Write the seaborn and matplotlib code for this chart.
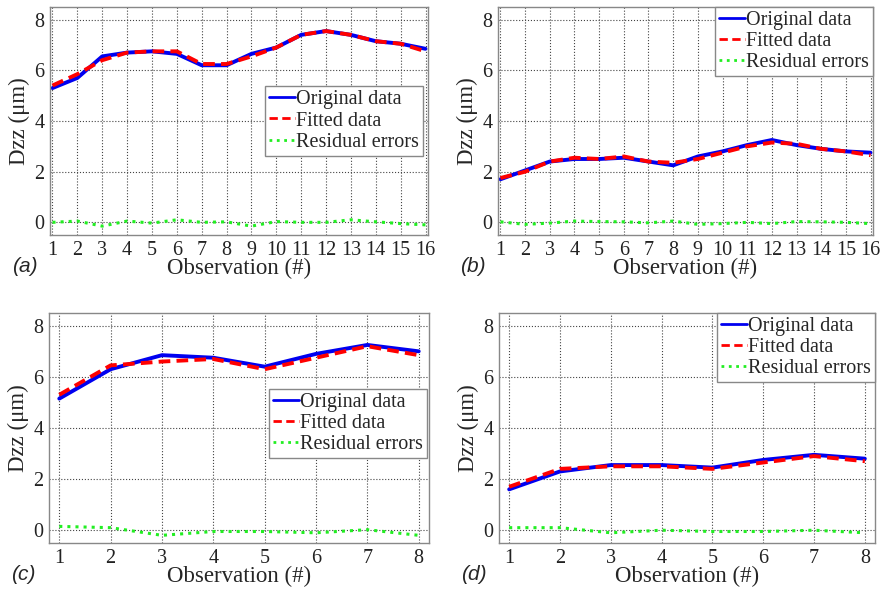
import numpy as np
import pandas as pd
import matplotlib
matplotlib.use("Agg")
import matplotlib.pyplot as plt
import seaborn as sns

# Observation indices
obs_16 = list(range(1, 17))
obs_8 = list(range(1, 9))

# Panel (a)
orig_a = [5.3, 5.7, 6.55, 6.7, 6.75, 6.65, 6.2, 6.2, 6.65, 6.9, 7.4, 7.55, 7.4, 7.15, 7.05, 6.85]
fit_a = [5.4, 5.85, 6.4, 6.7, 6.75, 6.75, 6.25, 6.25, 6.55, 6.9, 7.4, 7.55, 7.4, 7.15, 7.05, 6.75]
res_a = [0.0, 0.05, -0.15, 0.05, -0.03, 0.1, 0.0, 0.02, -0.15, 0.03, 0.0, 0.0, 0.1, 0.02, -0.05, -0.1]

# Panel (b)
orig_b = [1.7, 2.05, 2.4, 2.5, 2.5, 2.55, 2.4, 2.25, 2.6, 2.8, 3.05, 3.25, 3.05, 2.9, 2.8, 2.75]
fit_b = [1.75, 2.0, 2.4, 2.55, 2.5, 2.6, 2.4, 2.35, 2.5, 2.75, 3.0, 3.15, 3.1, 2.9, 2.8, 2.65]
res_b = [0.02, -0.08, -0.03, 0.05, 0.03, 0.02, -0.02, 0.05, -0.08, -0.05, 0.0, -0.05, 0.03, 0.02, 0.0, -0.05]

# Panel (c)
orig_c = [5.15, 6.3, 6.85, 6.75, 6.4, 6.9, 7.25, 7.0]
fit_c = [5.3, 6.45, 6.6, 6.7, 6.3, 6.75, 7.2, 6.85]
res_c = [0.15, 0.1, -0.2, -0.05, -0.05, -0.1, 0.02, -0.2]

# Panel (d)
orig_d = [1.6, 2.3, 2.55, 2.55, 2.45, 2.75, 2.95, 2.8]
fit_d = [1.7, 2.4, 2.5, 2.5, 2.4, 2.65, 2.9, 2.7]
res_d = [0.1, 0.1, -0.1, 0.0, -0.05, -0.05, 0.0, -0.1]

panel_tags = ['a', 'b', 'c', 'd']
series_names = ['Original data', 'Fitted data', 'Residual errors']

sns.set_theme(style='white')
plt.rcParams['font.family'] = ['Liberation Serif', 'DejaVu Serif']

fig = plt.figure(figsize=(8.81, 5.92), dpi=100)

# axes rectangles in pixels (left, top, right, bottom)
W, H = 881, 592
boxes = [
    (50, 7, 428, 235),
    (498, 7, 873, 235),
    (49, 313, 429, 543),
    (499, 313, 875, 543),
]
panels = [
    (obs_16, orig_a, fit_a, res_a, (0.9, 16.1), 'center right', (1.0, 0.5), 0.25),
    (obs_16, orig_b, fit_b, res_b, (0.9, 16.1), 'upper right', (1.0, 1.0), 0.0),
    (obs_8, orig_c, fit_c, res_c, (0.8, 8.2), 'center right', (1.0, 0.52), 0.1),
    (obs_8, orig_d, fit_d, res_d, (0.8, 8.2), 'upper right', (1.0, 1.0), 0.0),
]

styles = [
    dict(color='#0000f0', linestyle='-', linewidth=2.8),
    dict(color='#ff0000', linestyle='--', linewidth=2.8, dashes=(3, 1.6)),
    dict(color='#22ee22', linestyle=':', linewidth=2.2),
]

for (x0, y0, x1, y1), (xs, orig, fit, res, xlim, loc, anchor, pad), tag in zip(boxes, panels, panel_tags):
    ax = fig.add_axes([x0 / W, 1 - y1 / H, (x1 - x0) / W, (y1 - y0) / H])
    df = pd.DataFrame({'obs': xs * 3,
                       'val': orig + fit + res,
                       'series': [series_names[0]] * len(xs) + [series_names[1]] * len(xs)
                       + [series_names[2]] * len(xs)})
    for name, st in zip(series_names, styles):
        sub = df[df['series'] == name]
        kw = dict(st)
        dashes = kw.pop('dashes', None)
        sns.lineplot(data=sub, x='obs', y='val', ax=ax, label=name, **kw)
        if dashes is not None:
            ax.lines[-1].set_dashes(dashes)

    ax.set_xlim(*xlim)
    ax.set_ylim(-0.5, 8.5)
    ax.set_xticks(xs)
    ax.set_yticks([0, 2, 4, 6, 8])
    ax.tick_params(axis='both', labelsize=14.5, direction='in', length=3, pad=4, colors='#222222')
    ax.grid(True, linestyle=':', color='#444444', linewidth=0.8)
    for sp in ax.spines.values():
        sp.set_color('#888888')
        sp.set_linewidth(1.0)
    ax.set_xlabel('Observation (#)', fontsize=16.5, labelpad=-1)
    ax.set_ylabel('Dzz (\u03bcm)', fontsize=16.5, labelpad=3)

    leg = ax.legend(loc=loc, bbox_to_anchor=anchor, fontsize=14.5, frameon=True, fancybox=False,
                    edgecolor='#888888', framealpha=1, handlelength=1.3, handletextpad=0.05,
                    borderpad=0.2, labelspacing=0.1, borderaxespad=pad)
    leg.get_frame().set_linewidth(1.0)
    for h in leg.get_lines():
        h.set_linewidth(2.0)

    fig.text((x0 - 38) / W, 1 - (y1 + 31) / H, '(' + tag + ')', fontsize=15,
             family=['Liberation Sans', 'DejaVu Sans'], style='italic', va='center', ha='left')

fig.savefig('out.png', dpi=100)
